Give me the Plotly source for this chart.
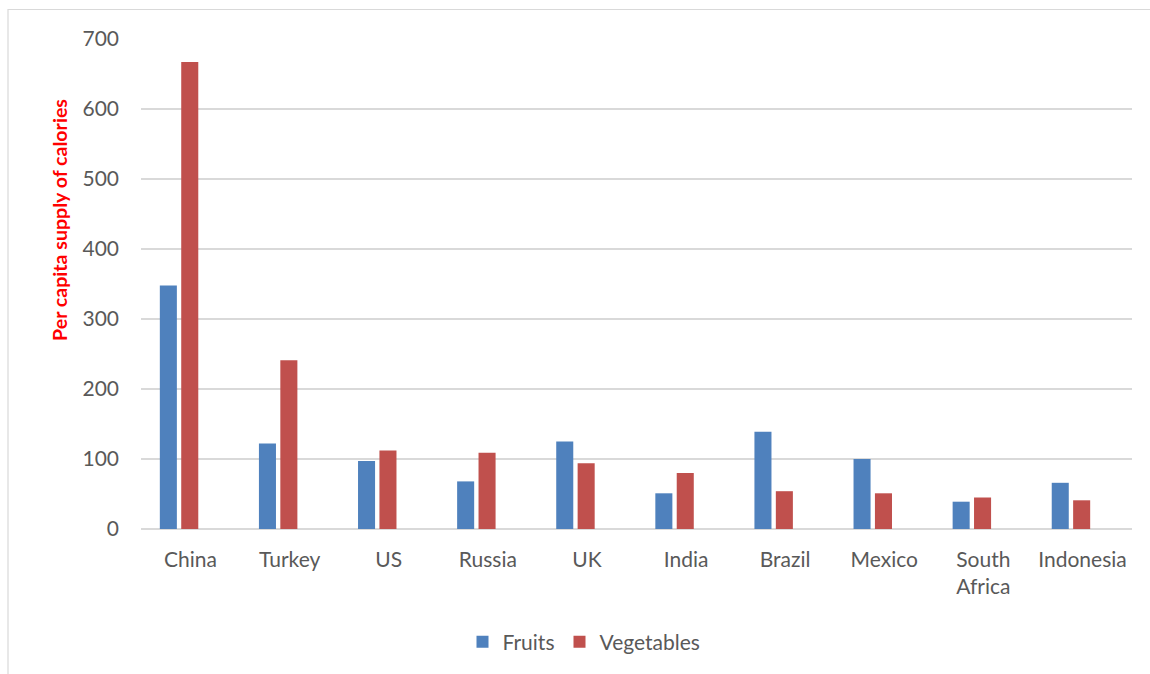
import plotly.graph_objects as go

countries = ["China", "Turkey", "US", "Russia", "UK", "India", "Brazil", "Mexico", "South<br>Africa", "Indonesia"]
fruits = [348, 122, 97, 68, 125, 51, 139, 100, 39, 66]
vegetables = [667, 241, 112, 109, 94, 80, 54, 51, 45, 41]
y_ticks = [0, 100, 200, 300, 400, 500, 600, 700]

BLUE = "#4F81BD"
RED = "#C0504D"
TXT = "#595959"
GRID = "#D9D9D9"
FONT = "Lato, Open Sans, sans-serif"
TITLE_FONT = "Lato, sans-serif"

fig = go.Figure()
fig.add_trace(go.Bar(
    x=countries, y=fruits, name="Fruits",
    marker=dict(color=BLUE, line=dict(width=0)),
    width=0.172, offset=-0.31,
))
fig.add_trace(go.Bar(
    x=countries, y=vegetables, name="Vegetables",
    marker=dict(color=RED, line=dict(width=0)),
    width=0.172, offset=-0.094,
))

W, H = 1150, 674
L, R, T, B = 141, 18, 39, 145
pw, ph = W - L - R, H - T - B

def px(x):
    return (x - L) / pw

def py(y):
    return (H - B - y) / ph

fig.update_layout(
    width=W, height=H,
    margin=dict(l=L, r=R, t=T, b=B),
    paper_bgcolor="white", plot_bgcolor="white",
    barmode="overlay",
    font=dict(family=FONT, size=21, color=TXT),
    showlegend=True,
    legend=dict(
        orientation="h", x=px(584), y=py(642),
        xanchor="center", yanchor="middle",
        font=dict(family=FONT, size=21, color=TXT),
        itemwidth=30, traceorder="normal",
    ),
    xaxis=dict(
        type="category", showgrid=False, zeroline=False,
        showline=False, ticks="", ticklabelstandoff=16,
        tickfont=dict(family=FONT, size=21, color=TXT),
    ),
    yaxis=dict(
        range=[0, 700], tickvals=y_ticks, showgrid=True,
        gridcolor=GRID, gridwidth=1.5, zeroline=True, zerolinecolor=GRID,
        zerolinewidth=1.5, showline=False, ticks="", ticklabelstandoff=21,
        tickfont=dict(family=FONT, size=21, color=TXT),
    ),
    annotations=[dict(
        text="<b>Per capita supply of calories</b>",
        xref="paper", yref="paper", x=px(59), y=py(220),
        xanchor="center", yanchor="middle", textangle=-90,
        showarrow=False, font=dict(family=TITLE_FONT, size=19.6, color="#FF0000"),
    )],
    shapes=[dict(
        type="rect", xref="paper", yref="paper",
        x0=px(8), y0=py(700), x1=px(1170), y1=py(9.5),
        line=dict(color=GRID, width=1.2), fillcolor="rgba(0,0,0,0)", layer="below",
    )],
)

fig.write_html("out.html")
